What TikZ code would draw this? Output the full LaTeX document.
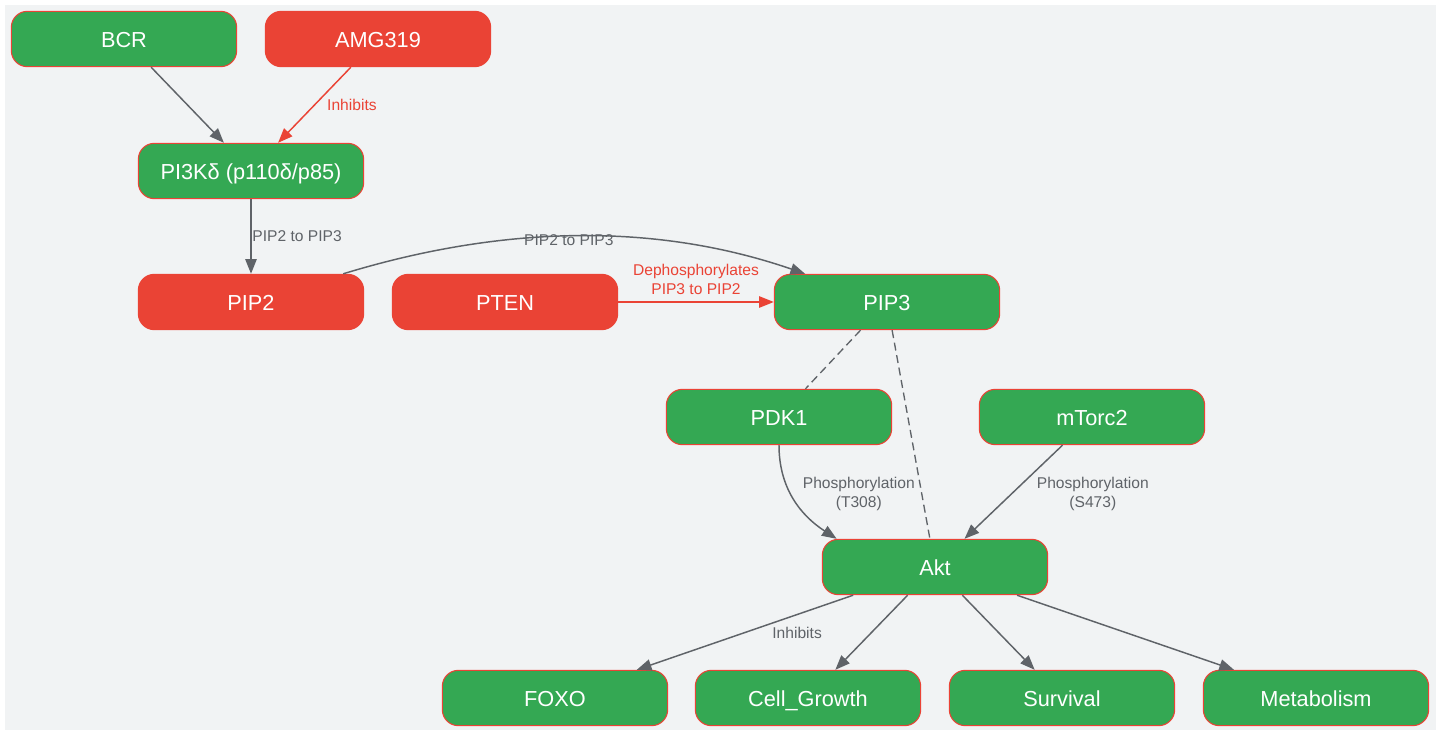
\documentclass[tikz,border=0pt]{standalone}
\usepackage{fontspec}
\setmainfont{Liberation Sans}
\usetikzlibrary{arrows.meta,calc}
\definecolor{ggreen}{HTML}{34A853}
\definecolor{gred}{HTML}{EA4335}
\definecolor{ggray}{HTML}{5F6368}
\definecolor{gbg}{HTML}{F1F3F4}
\begin{document}
\begin{tikzpicture}[x=0.75pt,y=-0.75pt,
  box/.style={draw=gred, line width=0.8pt, rounded corners=12pt, minimum width=169pt, minimum height=41.5pt, text=white, font=\fontsize{16.3}{18}\selectfont, inner sep=0pt, text height=14.4pt, text depth=1.6pt},
  gbox/.style={box, fill=ggreen},
  rbox/.style={box, fill=gred},
  link/.style={draw=ggray, line width=1.1pt, -{Triangle[length=11pt,width=8.5pt]}},
  rlink/.style={link, draw=gred},
  dlink/.style={draw=ggray, line width=1pt, dash pattern=on 6pt off 3.5pt},
  lab/.style={font=\fontsize{11.7}{14.2}\selectfont, text=ggray, inner sep=0pt, align=center},
  rlab/.style={lab, text=gred}
]
\useasboundingbox (0,0) rectangle (1442,730);
\fill[white] (0,0) rectangle (1442,730);
\fill[gbg] (5,5) rectangle (1436,730);

\node[gbox] (bcr) at (124,39) {BCR};
\node[rbox] (amg) at (378,39) {AMG319};
\node[gbox] (pi3k) at (251,171) {PI3Kδ (p110δ/p85)};
\node[rbox] (pip2) at (251,302) {PIP2};
\node[rbox] (pten) at (505,302) {PTEN};
\node[gbox] (pip3) at (887,302) {PIP3};
\node[gbox] (pdk1) at (779,417) {PDK1};
\node[gbox] (mtorc) at (1092,417) {mTorc2};
\node[gbox] (akt) at (935,567) {Akt};
\node[gbox] (foxo) at (555,698) {FOXO};
\node[gbox] (cg) at (808,698) {Cell\_Growth};
\node[gbox] (surv) at (1062,698) {Survival};
\node[gbox] (meta) at (1316,698) {Metabolism};

\draw[link] (bcr) -- (pi3k);
\draw[rlink] (amg) -- node[rlab, anchor=west, xshift=9pt] {Inhibits} (pi3k);
\draw[link] (pi3k) -- node[lab, anchor=west, xshift=0.5pt] {PIP2 to PIP3} (pip2);
\draw[link] (pip2.17) to[out=17, in=161, looseness=0.9] node[lab, pos=0.5, xshift=-4.5pt, yshift=-3pt] {PIP2 to PIP3} (pip3.161);
\draw[rlink] (pten) -- node[rlab, anchor=south, yshift=5pt] {Dephosphorylates\\PIP3 to PIP2} (pip3);
\draw[dlink] (pip3) -- (pdk1);
\draw[dlink] (pip3) -- (akt);
\draw[link] (pdk1.south) to[out=-90, in=147] node[lab, pos=0.45, anchor=west, xshift=8pt, yshift=0.5pt] {Phosphorylation\\(T308)} (akt.164);
\draw[link] (mtorc) -- node[lab, anchor=west, xshift=17pt, yshift=-1.5pt] {Phosphorylation\\(S473)} (akt);
\draw[link] (akt) -- node[lab, anchor=west, xshift=20pt] {Inhibits} (foxo);
\draw[link] (akt) -- (cg);
\draw[link] (akt) -- (surv);
\draw[link] (akt) -- (meta);
\end{tikzpicture}
\end{document}
